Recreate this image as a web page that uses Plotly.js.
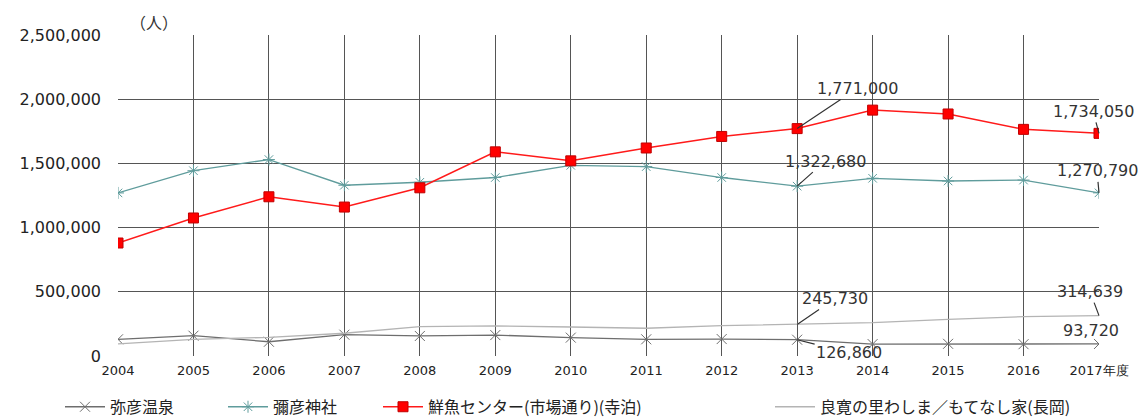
<!DOCTYPE html>
<html><head><meta charset="utf-8">
<script src="https://cdn.plot.ly/plotly-3.0.1.min.js"></script>
<style>body{margin:0;background:#fff}#c{width:1145px;height:419px}</style>
</head><body><div id="c"></div>
<script>
const years = [2004,2005,2006,2007,2008,2009,2010,2011,2012,2013,2014,2015,2016,2017];
const tickLabels = ['2004','2005','2006','2007','2008','2009','2010','2011','2012','2013','2014','2015','2016','2017年度'];
const yahikoOnsen = [130000,158000,111000,166000,156000,163000,143000,130000,132000,126860,93000,95000,92000,93720];
const yahikoJinja = [1270000,1443000,1530000,1330000,1353000,1390000,1485000,1475000,1390000,1322680,1384000,1363000,1370000,1270790];
const sengyoCenter = [880000,1075000,1240000,1160000,1310000,1590000,1520000,1620000,1710000,1771000,1915000,1885000,1765000,1734050];
const ryokanNoSato = [95000,130000,145000,177000,228000,234000,226000,216000,236000,245730,260000,286000,306000,314639];
const seriesNames = ['弥彦温泉','彌彦神社','鮮魚センター(市場通り)(寺泊)','良寛の里わしま／もてなし家(長岡)'];

const jp = '"Noto Sans CJK JP", "Noto Sans", sans-serif';
const num = '"DejaVu Sans", Verdana, sans-serif';

const traces = [
  {x: years, y: yahikoOnsen, name: seriesNames[0], mode: 'lines+markers', legend: 'legend',
   line: {color: '#6e6e6e', width: 1.3},
   marker: {symbol: 'x-thin', size: 10, line: {color: '#6e6e6e', width: 1}}},
  {x: years, y: yahikoJinja, name: seriesNames[1], mode: 'lines+markers', legend: 'legend2',
   line: {color: '#5f9c9c', width: 1.3},
   marker: {symbol: 'asterisk', size: 10, line: {color: '#5f9c9c', width: 1}}},
  {x: years, y: sengyoCenter, name: seriesNames[2], mode: 'lines+markers', legend: 'legend3',
   line: {color: '#ff1a1a', width: 1.5},
   marker: {symbol: 'square', size: 10, color: '#ff0000', line: {color: '#c00000', width: 1}}},
  {x: years, y: ryokanNoSato, name: seriesNames[3], mode: 'lines', legend: 'legend4',
   line: {color: '#b4b4b4', width: 1.3}}
];

function ann(xi, val, ax, ay, text) {
  return {x: xi, y: val, text: text, showarrow: true, arrowhead: 0, arrowwidth: 1.2,
    arrowcolor: '#333', ax: ax, ay: ay, font: {family: num, size: 16, color: '#333'}};
}
const fmt = v => v.toLocaleString('en-US');
const annotations = [
  ann(years[9], sengyoCenter[9], 60, -40, fmt(sengyoCenter[9])),
  ann(years[9], yahikoJinja[9], 28, -25, fmt(yahikoJinja[9])),
  ann(years[13], sengyoCenter[13], -6, -22, fmt(sengyoCenter[13])),
  ann(years[13], yahikoJinja[13], -2, -22, fmt(yahikoJinja[13])),
  ann(years[9], ryokanNoSato[9], 38, -26, fmt(ryokanNoSato[9])),
  ann(years[9], yahikoOnsen[9], 52, 13, fmt(yahikoOnsen[9])),
  ann(years[13], ryokanNoSato[13], -9, -24, fmt(ryokanNoSato[13])),
  {x: years[13], y: yahikoOnsen[13], text: fmt(yahikoOnsen[13]), showarrow: false,
   xshift: -8, yshift: 13, font: {family: num, size: 16, color: '#333'}},
  {xref: 'paper', yref: 'paper', x: 0.0367, y: 1.0405, xanchor: 'center', yanchor: 'middle',
   text: '（人）', showarrow: false, font: {family: jp, size: 16, color: '#333'}}
];

const legBase = {orientation: 'h', xref: 'container', yref: 'container', y: 0.029, yanchor: 'middle',
  xanchor: 'left', bgcolor: 'rgba(0,0,0,0)', itemwidth: 40,
  font: {family: jp, size: 16, color: '#222'}};

const layout = {
  width: 1145, height: 419,
  margin: {l: 118, r: 46, t: 35, b: 63},
  paper_bgcolor: '#fff', plot_bgcolor: '#fff',
  xaxis: {range: [2004, 2017], tickvals: years, ticktext: tickLabels, showgrid: true,
    gridcolor: '#555', gridwidth: 1, zeroline: false, showline: false,
    tickfont: {family: num, size: 13, color: '#222'}, ticks: '', ticklabelstandoff: 5},
  yaxis: {range: [0, 2500000], dtick: 500000, tickformat: ',d', showgrid: true,
    gridcolor: '#555', gridwidth: 1, zeroline: false, showline: false,
    tickfont: {family: num, size: 16, color: '#222'}, ticks: '', ticklabelstandoff: 16},
  showlegend: true,
  legend: Object.assign({}, legBase, {x: 60 / 1145}),
  legend2: Object.assign({}, legBase, {x: 223 / 1145}),
  legend3: Object.assign({}, legBase, {x: 378 / 1145}),
  legend4: Object.assign({}, legBase, {x: 770 / 1145}),
  annotations: annotations
};

Plotly.newPlot('c', traces, layout, {displayModeBar: false, staticPlot: true});
</script></body></html>
